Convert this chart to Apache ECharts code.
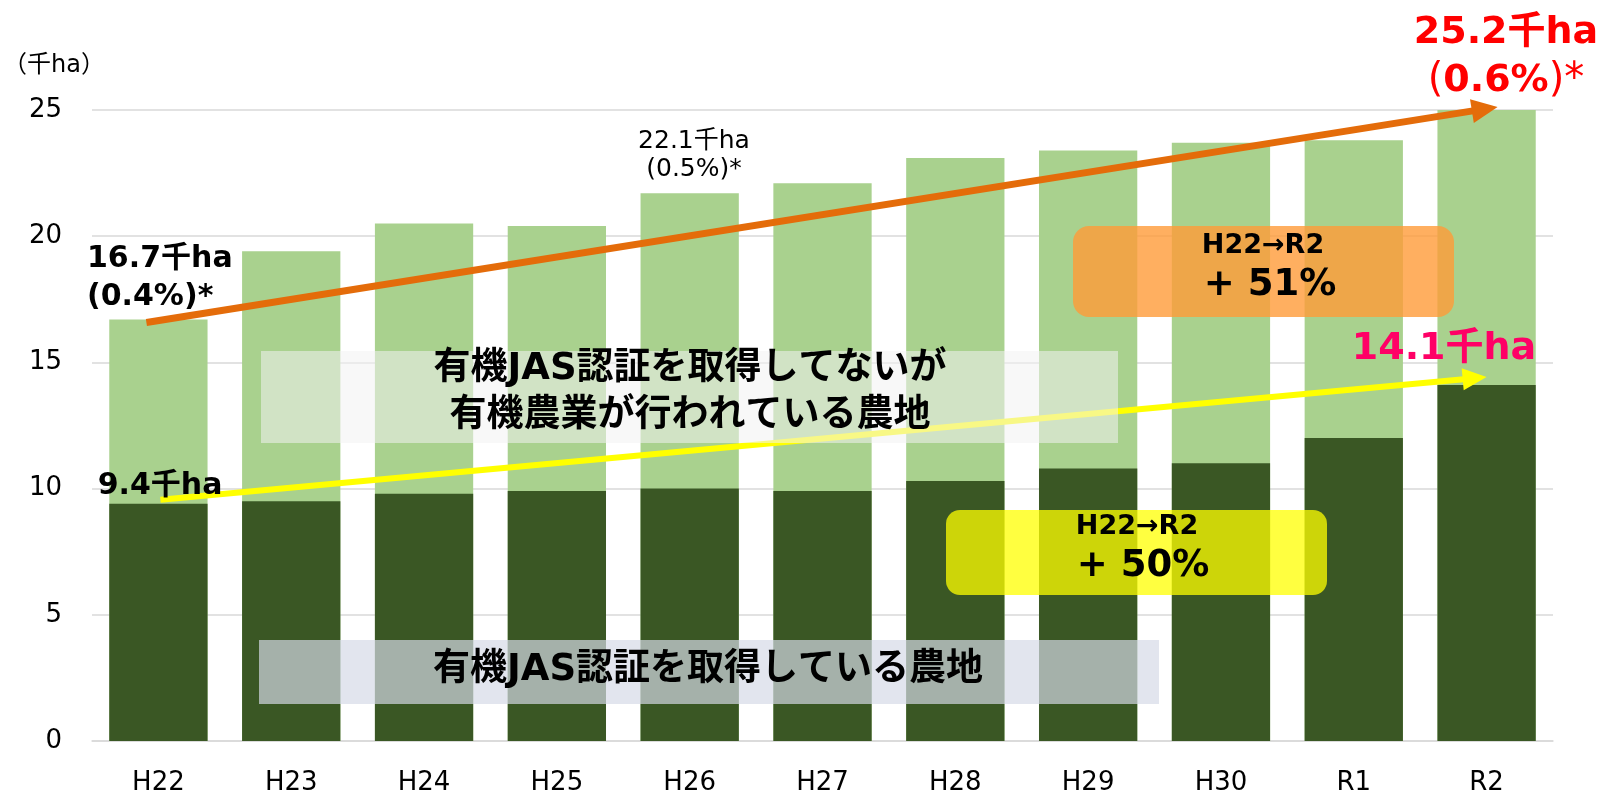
<!DOCTYPE html>
<html>
<head>
<meta charset="utf-8">
<script src="https://cdn.jsdelivr.net/npm/echarts@6/dist/echarts.min.js"></script>
<style>
  html, body { margin: 0; padding: 0; background: #fff; }
  #chart { width: 1601px; height: 793px; }
</style>
</head>
<body>
<div id="chart"></div>
<script>
var categories = ['H22', 'H23', 'H24', 'H25', 'H26', 'H27', 'H28', 'H29', 'H30', 'R1', 'R2']
// 有機農業が行われている農地（合計）
var totalArea = [16.7, 19.4, 20.5, 20.4, 21.7, 22.1, 23.1, 23.4, 23.7, 23.8, 25.2]
// 有機JAS認証を取得している農地
var certifiedArea = [9.4, 9.5, 9.8, 9.9, 10.0, 9.9, 10.3, 10.8, 11.0, 12.0, 14.1]
var yTicks = [0, 5, 10, 15, 20, 25]

var FONT = '"DejaVu Sans", "Noto Sans CJK JP", sans-serif'

var chart = echarts.init(document.getElementById('chart'))

chart.setOption({
  animation: false,
  grid: { left: 92, right: 48, top: 110, bottom: 52, outerBoundsMode: 'none' },
  xAxis: {
    type: 'category',
    data: categories,
    axisLine: { lineStyle: { color: '#D9D9D9', width: 1.5 } },
    axisTick: { show: false },
    axisLabel: { color: '#000', fontSize: 26, fontFamily: FONT, margin: 29 }
  },
  yAxis: {
    type: 'value',
    min: yTicks[0],
    max: yTicks[yTicks.length - 1],
    interval: 5,
    axisLine: { show: false },
    axisTick: { show: false },
    axisLabel: { color: '#000', fontSize: 26, fontFamily: FONT, margin: 30, padding: [0, 0, 6, 0] },
    splitLine: { lineStyle: { color: '#D9D9D9', width: 1.5 } }
  },
  series: [
    {
      name: 'total',
      type: 'bar',
      data: totalArea,
      barWidth: '74%',
      itemStyle: { color: '#A9D18E' }
    },
    {
      name: 'certified',
      type: 'bar',
      data: certifiedArea,
      barWidth: '74%',
      barGap: '-100%',
      itemStyle: { color: '#3A5724' }
    }
  ]
})

function arrow(p0, p1, color, w, headLen, headW) {
  var dx = p1[0] - p0[0], dy = p1[1] - p0[1]
  var L = Math.sqrt(dx * dx + dy * dy)
  var ux = dx / L, uy = dy / L, nx = -uy, ny = ux
  var bx = p1[0] - ux * headLen, by = p1[1] - uy * headLen
  return [
    { type: 'line', z: 10, shape: { x1: p0[0], y1: p0[1], x2: bx + ux, y2: by + uy },
      style: { stroke: color, lineWidth: w } },
    { type: 'polygon', z: 10,
      shape: { points: [[p1[0], p1[1]], [bx + nx * headW, by + ny * headW], [bx - nx * headW, by - ny * headW]] },
      style: { fill: color } }
  ]
}

function txt(x, y, text, size, color, bold, extra) {
  var o = {
    type: 'text', z: 40, x: x, y: y,
    style: {
      text: text,
      font: (bold ? 'bold ' : '') + size + 'px ' + FONT,
      fill: color,
      align: 'center',
      verticalAlign: 'middle'
    }
  }
  if (extra) for (var k in extra) o.style[k] = extra[k]
  return o
}

function box(x, y, w, h, fill, r) {
  return { type: 'rect', z: 20, shape: { x: x, y: y, width: w, height: h, r: r || 0 }, style: { fill: fill } }
}

var last = categories.length - 1
var oStart = chart.convertToPixel({ seriesIndex: 0 }, [0, totalArea[0]])
var oEnd = chart.convertToPixel({ seriesIndex: 0 }, [last, totalArea[last]])
var yStart = chart.convertToPixel({ seriesIndex: 1 }, [0, certifiedArea[0]])
var yEnd = chart.convertToPixel({ seriesIndex: 1 }, [last, certifiedArea[last]])

var g = []
g = g.concat(arrow([oStart[0] - 12, oStart[1] + 3], [oEnd[0] + 11, oEnd[1] + 2], '#E46C0A', 7, 26, 12))
g = g.concat(arrow([yStart[0] + 2, yStart[1] - 4], [yEnd[0], yEnd[1] - 8], '#FFFF00', 6, 24, 11))

// boxes
g.push(box(261, 351, 857, 92, 'rgba(242,242,242,0.55)'))
g.push(box(259, 640, 900, 64, 'rgba(213,217,230,0.69)'))
g.push(box(1073, 226, 381, 91, 'rgba(255,155,56,0.8)', 16))
g.push(box(946, 510, 381, 85, 'rgba(255,255,0,0.75)', 14))

// texts
g.push(txt(54, 66, '（千ha）', 24, '#000', false))
g.push(txt(87, 278, '16.7千ha\n(0.4%)*', 30, '#000', true, { align: 'left', lineHeight: 38 }))
g.push(txt(694, 155, '22.1千ha\n(0.5%)*', 25, '#000', false, { lineHeight: 28 }))
g.push({
  type: 'text', z: 40, x: 1506, y: 57,
  style: {
    text: '\n({b|0.6%})*',
    font: '40px ' + FONT,
    fill: '#FF0000',
    align: 'center',
    verticalAlign: 'middle',
    lineHeight: 48,
    rich: { b: { font: 'bold 38px ' + FONT, fill: '#FF0000', lineHeight: 48 } }
  }
})
g.push(txt(1506, 33, '25.2千ha', 38, '#FF0000', true))
g.push(txt(1444, 349, '14.1千ha', 38, '#FF0066', true))
g.push(txt(160, 486, '9.4千ha', 30, '#000', true))
g.push(txt(690, 393, '有機JAS認証を取得してないが\n有機農業が行われている農地', 37, '#000', true, { lineHeight: 47 }))
g.push(txt(708, 670, '有機JAS認証を取得している農地', 37, '#000', true))
g.push(txt(1263, 246, 'H22→R2', 27, '#000', true))
g.push(txt(1270, 285, '+ 51%', 37, '#000', true))
g.push(txt(1137, 527, 'H22→R2', 27, '#000', true))
g.push(txt(1143, 566, '+ 50%', 37, '#000', true))

chart.setOption({ graphic: g })
</script>
</body>
</html>
